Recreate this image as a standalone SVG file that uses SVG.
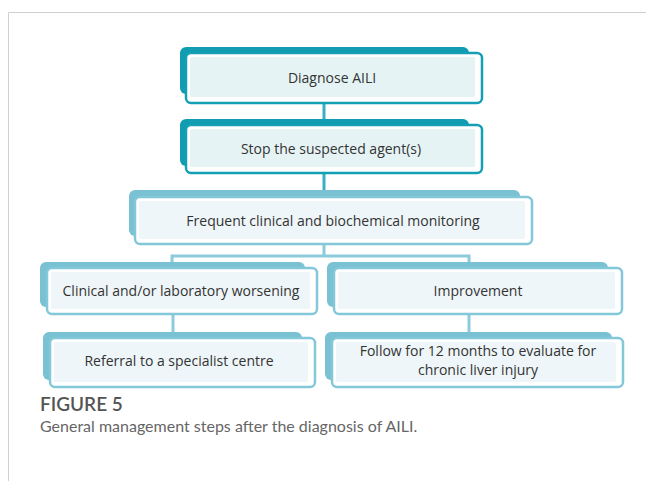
<svg xmlns="http://www.w3.org/2000/svg" width="646" height="481" viewBox="0 0 646 481">
<style>
.txt{font-family:"Open Sans","Liberation Sans",sans-serif;font-size:14px;fill:#333;text-anchor:middle}
.backD{fill:#109db2}
.frontD{fill:#fff;stroke:#139fb4;stroke-width:2.5}
.innerD{fill:#e6f3f5}
.backL{fill:#79c1d3}
.frontL{fill:#fff;stroke:#82c8d9;stroke-width:2.5}
.innerL{fill:#eef6f9}
.conD{stroke:#3aaec2;stroke-width:3;fill:none}
.conL{stroke:#8ccbdb;stroke-width:3;fill:none}
.cap1{font-family:Lato,"Open Sans",sans-serif;font-size:19px;fill:#555;font-weight:600}
.cap2{font-family:Lato,"Open Sans",sans-serif;font-size:16px;fill:#666}
</style>
<rect width="646" height="481" fill="#fff"/>
<path d="M8.5 481 V12.5 H646" fill="none" stroke="#d0d0d0" stroke-width="1"/>
<g id="connectors">
<path class="conD" d="M324 103 V120"/>
<path class="conD" d="M324 173 V191"/>
<path class="conL" d="M324 245 V256 M172 264 V256 H469 V264"/>
<path class="conL" d="M173 315 V334"/>
<path class="conL" d="M469 315 V334"/>
</g>
<g id="n1">
<rect class="backD" x="180" y="47" width="289" height="47" rx="6"/>
<rect class="frontD" x="186" y="53" width="296" height="50" rx="5"/>
<rect class="innerD" x="190" y="57" width="285" height="40" rx="2"/>
<text class="txt" x="332" y="83">Diagnose AILI</text>
</g>
<g id="n2">
<rect class="backD" x="180" y="119" width="289" height="47" rx="6"/>
<rect class="frontD" x="186" y="125" width="296" height="48" rx="5"/>
<rect class="innerD" x="190" y="129" width="285" height="38" rx="2"/>
<text class="txt" x="331" y="154">Stop the suspected agent(s)</text>
</g>
<g id="n3">
<rect class="backL" x="129" y="190" width="391" height="46" rx="6"/>
<rect class="frontL" x="135" y="197" width="397" height="47" rx="5"/>
<rect class="innerL" x="139" y="201" width="386" height="38" rx="2"/>
<text class="txt" x="333" y="226">Frequent clinical and biochemical monitoring</text>
</g>
<g id="n4">
<rect class="backL" x="40" y="262" width="265" height="45" rx="6"/>
<rect class="frontL" x="47" y="268" width="270" height="46" rx="5"/>
<rect class="innerL" x="51" y="272" width="259" height="37" rx="2"/>
<text class="txt" x="181" y="296">Clinical and/or laboratory worsening</text>
</g>
<g id="n5">
<rect class="backL" x="43" y="332" width="259" height="48" rx="6"/>
<rect class="frontL" x="50" y="338" width="265" height="49" rx="5"/>
<rect class="innerL" x="54" y="342" width="254" height="40" rx="2"/>
<text class="txt" x="179" y="366">Referral to a specialist centre</text>
</g>
<g id="n6">
<rect class="backL" x="327" y="262" width="281" height="45" rx="6"/>
<rect class="frontL" x="334" y="268" width="288" height="46" rx="5"/>
<rect class="innerL" x="338" y="272" width="277" height="37" rx="2"/>
<text class="txt" x="478" y="296">Improvement</text>
</g>
<g id="n7">
<rect class="backL" x="325" y="332" width="287" height="48" rx="6"/>
<rect class="frontL" x="332" y="338" width="291" height="49" rx="5"/>
<rect class="innerL" x="336" y="342" width="280" height="40" rx="2"/>
<text class="txt" x="478" y="356">Follow for 12 months to evaluate for</text>
<text class="txt" x="478" y="375">chronic liver injury</text>
</g>
<text class="cap1" x="40" y="411">FIGURE 5</text>
<text class="cap2" x="40" y="432">General management steps after the diagnosis of AILI.</text>
</svg>
